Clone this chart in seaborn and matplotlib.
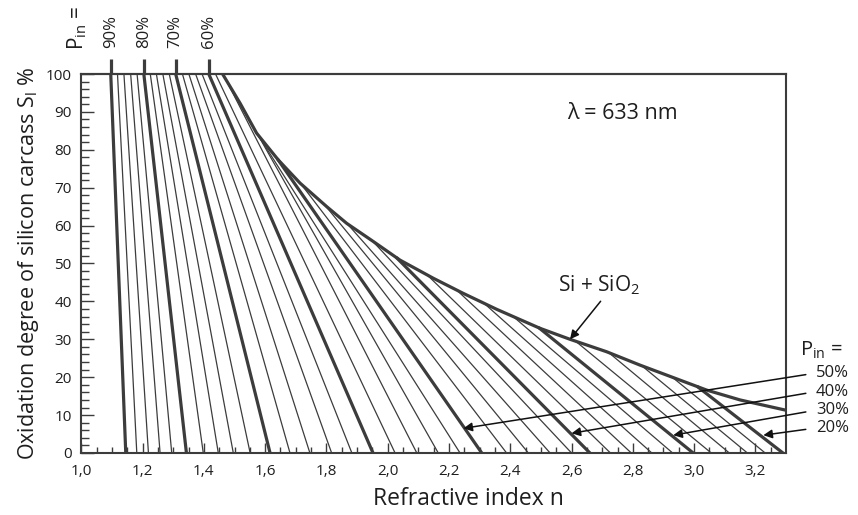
import numpy as np
import pandas as pd
import seaborn as sns
import matplotlib.pyplot as plt

# initial porosity of each line, %
p_lines = [90, 88, 86, 84, 82, 80, 78, 76, 74, 72, 70, 68, 66, 64, 62, 60, 58,
           56, 54, 52, 50, 48, 46, 44, 42, 40, 38, 36, 34, 32, 30, 28, 26, 24, 22, 20]
# refractive index where each line reaches S = 0
n_bottom = [1.145, 1.181, 1.219, 1.257, 1.295, 1.343, 1.398, 1.447, 1.496, 1.551,
            1.616, 1.681, 1.746, 1.817, 1.883, 1.952, 2.024, 2.095, 2.165, 2.236,
            2.307, 2.388, 2.459, 2.530, 2.600, 2.660, 2.727, 2.795, 2.862, 2.930,
            2.997, 3.056, 3.115, 3.174, 3.232, 3.290]
# lines 90..58 % start at the top edge, S = 100
n_top = [1.096, 1.118, 1.139, 1.161, 1.182, 1.204, 1.225, 1.245, 1.266, 1.287,
         1.308, 1.330, 1.351, 1.373, 1.394, 1.416, 1.438]
# lines 56..20 % start on the Si + SiO2 curve at these S values
s_start = [98.5, 91, 84, 77.5, 71, 65.5, 60.5, 56, 51.5, 47, 43, 39.5, 36, 33,
           29.5, 26.5, 23, 20, 17.5]

# Si + SiO2 curve
env_n = [1.461, 1.518, 1.572, 1.643, 1.714, 1.801, 1.866, 1.953, 2.040, 2.149,
         2.247, 2.356, 2.497, 2.595, 2.715, 2.823, 2.932, 3.041, 3.150, 3.299]
env_s = [100, 92.3, 84.4, 77.3, 71.2, 65.0, 60.6, 55.8, 50.9, 46.1,
         42.1, 37.9, 32.9, 30.0, 26.7, 23.2, 19.9, 16.6, 14.0, 11.3]

top_ticks = [1.096, 1.204, 1.308, 1.416]
top_labels = ['90%', '80%', '70%', '60%']

x_ticks = [1.0, 1.2, 1.4, 1.6, 1.8, 2.0, 2.2, 2.4, 2.6, 2.8, 3.0, 3.2]
x_labels = ['1,0', '1,2', '1,4', '1,6', '1,8', '2,0', '2,2', '2,4', '2,6', '2,8', '3,0', '3,2']
y_ticks = [0, 10, 20, 30, 40, 50, 60, 70, 80, 90, 100]

arrow_labels = ['50%', '40%', '30%', '20%']
arrow_n = [2.247, 2.600, 2.932, 3.226]
arrow_s = [6.5, 5.2, 4.7, 4.7]

sns.set_theme(style='white')
plt.rcParams['font.family'] = ['Open Sans', 'DejaVu Sans']
plt.rcParams['mathtext.default'] = 'regular'
dark = '#3c3c3c'
ink = '#1e1e1e'

# one row per line end
rows = []
env_s_r = np.array(env_s[::-1])
env_n_r = np.array(env_n[::-1])
n_high = len(n_top)
for i, p in enumerate(p_lines):
    if i < n_high:
        n0, s0 = n_top[i], 100
    else:
        s0 = s_start[i - n_high]
        n0 = np.interp(s0, env_s_r, env_n_r)
    thick = p % 10 == 0
    rows.append({'P': p, 'n': n0, 'S': s0, 'thick': thick})
    rows.append({'P': p, 'n': n_bottom[i], 'S': 0, 'thick': thick})
df = pd.DataFrame(rows)

fig = plt.figure(figsize=(8.58, 5.15), dpi=100)
ax = fig.add_axes([0.0948, 0.1204, 0.8213, 0.7359])

sns.lineplot(data=df[~df.thick], x='n', y='S', units='P', estimator=None, sort=False,
             color=dark, lw=0.9, ax=ax, legend=False)
sns.lineplot(data=df[df.thick], x='n', y='S', units='P', estimator=None, sort=False,
             color=dark, lw=2.3, ax=ax, legend=False)
sns.lineplot(x=env_n, y=env_s, estimator=None, sort=False, color=dark, lw=2.3, ax=ax)

ax.set_xlim(1.0, 3.3)
ax.set_ylim(0, 100)
ax.set_xticks(x_ticks, labels=x_labels)
ax.set_xticks(np.arange(1.05, 3.3, 0.05), minor=True)
ax.set_yticks(y_ticks)
ax.set_yticks(np.arange(0, 101, 2), minor=True)
ax.tick_params(which='both', direction='in', color=dark, width=1.0,
               labelsize=11, labelcolor=ink, bottom=True, left=True)
ax.tick_params(axis='x', which='major', length=7.2, pad=8)
ax.tick_params(axis='x', which='minor', length=4.3)
ax.tick_params(axis='y', which='major', length=9.4, pad=7)
ax.tick_params(axis='y', which='minor', length=5.8)
for sp in ax.spines.values():
    sp.set_color(dark)
    sp.set_linewidth(1.5)

ax.set_xlabel('Refractive index n', fontsize=16.5, color=ink, labelpad=6, x=0.55)
ax.set_ylabel('Oxidation degree of silicon carcass S$_l$ %', fontsize=15.5,
              color=ink, labelpad=3)

top = ax.secondary_xaxis('top')
top.set_xticks(top_ticks, labels=top_labels)
top.tick_params(direction='out', length=11, width=2.3, color=dark, pad=8,
                labelrotation=90, labelsize=12, labelcolor=ink)
top.spines['top'].set_linewidth(1.5)
top.spines['top'].set_color(dark)
ax.text(-0.006, 1.063, 'P$_{in}$ =', transform=ax.transAxes, rotation=90,
        ha='center', va='bottom', fontsize=15, color=ink)

ax.text(2.585, 89.7, '\u03bb = 633 nm', fontsize=15.5, va='center', color=ink)
ax.annotate('Si + SiO$_2$', xy=(2.595, 30.0), xytext=(0.6765, 0.443),
            textcoords='axes fraction', fontsize=15, va='center', color=ink,
            arrowprops=dict(arrowstyle='-|>', color='#111111', lw=1.1,
                            mutation_scale=13, shrinkA=1, shrinkB=0, relpos=(0.56, 0)))

ax.text(1.02, 0.272, 'P$_{in}$ =', transform=ax.transAxes, fontsize=14.5,
        va='center', color=ink)
label_y = [0.211, 0.162, 0.113, 0.066]
for lab, n, s, yy in zip(arrow_labels, arrow_n, arrow_s, label_y):
    ax.annotate(lab, xy=(n, s), xytext=(1.0425, yy), textcoords='axes fraction',
                fontsize=12, va='center', color=ink, annotation_clip=False,
                arrowprops=dict(arrowstyle='-|>', color='#111111', lw=1.1,
                                mutation_scale=13, shrinkA=5, shrinkB=0, relpos=(0, 0.5)))

fig.savefig('out.png', dpi=100)
